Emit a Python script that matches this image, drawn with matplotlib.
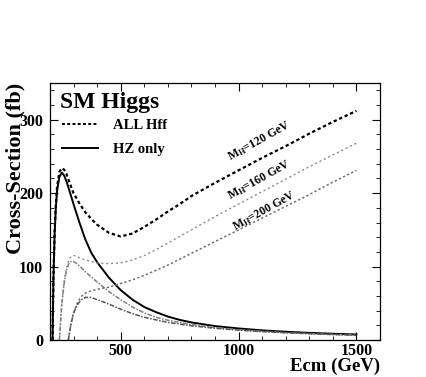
import matplotlib
matplotlib.use("Agg")
import matplotlib.pyplot as plt
from matplotlib.lines import Line2D
from matplotlib.ticker import MultipleLocator

plt.rcParams['font.family'] = ['Liberation Serif', 'DejaVu Serif']
plt.rcParams['font.weight'] = 'bold'
plt.rcParams['mathtext.fontset'] = 'custom'
plt.rcParams['mathtext.rm'] = 'Liberation Serif:bold'
plt.rcParams['mathtext.it'] = 'Liberation Serif:bold'
plt.rcParams['mathtext.bf'] = 'Liberation Serif:bold'

# ---- data ----
e120 = [211, 213, 215, 218, 220, 225, 230, 240, 250, 260, 270, 280, 300, 325, 350,
        375, 400, 450, 500, 550, 600, 650, 700, 750, 800, 900, 1000, 1100, 1200,
        1300, 1400, 1500]
all120 = [0, 50, 90, 125, 150, 185, 208, 229, 234, 232, 226, 217, 200, 186, 174,
          165, 157, 146, 141, 145, 154, 164, 175, 185, 196, 214, 231, 248, 264,
          281, 297, 312]
hz120 = [0, 48, 88, 122, 146, 180, 203, 222, 228, 224, 216, 206, 185, 160, 137,
         119, 106, 85, 68, 55, 45, 38, 32, 27.5, 24, 19, 15.8, 13.2, 11.3,
         9.8, 8.6, 7.6]

e160 = [240, 245, 250, 260, 270, 280, 290, 300, 310, 325, 350, 375, 400, 450, 500,
        550, 600, 650, 700, 800, 900, 1000, 1100, 1200, 1300, 1400, 1500]
all160 = [0, 25, 50, 80, 98, 109, 114, 115, 114.5, 112, 109, 107, 105, 104, 105,
          109, 115, 123, 132, 150, 168, 185, 202, 219, 236, 252, 268]
hz160 = [0, 24, 48, 77, 95, 104, 107, 107, 105, 101, 93, 86, 79, 66, 55,
         45, 37, 31, 27, 21, 17, 14, 12, 10, 8.8, 7.7, 6.8]

e200 = [278, 285, 290, 300, 310, 320, 335, 350, 375, 400, 450, 500, 550, 600, 700,
        800, 900, 1000, 1100, 1200, 1300, 1400, 1500]
all200 = [0, 15, 24, 37, 46, 53, 60, 64, 67, 69, 72, 77, 82, 88, 102,
          118, 134, 150, 166, 182, 198, 215, 231]
hz200 = [0, 14, 23, 36, 44, 50, 55, 58, 58, 55, 49, 42, 36, 31, 24,
         19.5, 16, 13.5, 11.5, 10, 8.6, 7.5, 6.5]

mass_labels = [r'M$_{\rm H}$=120 GeV', r'M$_{\rm H}$=160 GeV', r'M$_{\rm H}$=200 GeV']
label_pos = [(1088, 271), (1086, 218), (1110, 175)]

fig = plt.figure(figsize=(4.27, 3.77), dpi=100)
ax = fig.add_axes([0.117, 0.098, 0.773, 0.682])

gray = '#7f7f7f'
ax.plot(e120, all120, color='black', lw=1.6, ls=(0, (1.5, 1.2)))
ax.plot(e120, hz120, color='black', lw=1.4, ls='-')
ax.plot(e160, all160, color='#8c8c8c', lw=1.0, ls=(0, (1.5, 2)))
ax.plot(e160, hz160, color=gray, lw=1.1, ls=(0, (3, 1, 1, 1)))
ax.plot(e200, all200, color='#707070', lw=1.1, ls=(0, (1.5, 1.5)))
ax.plot(e200, hz200, color='#555555', lw=1.1, ls=(0, (3, 1, 1, 1)))

for txt, (x, y) in zip(mass_labels, label_pos):
    ax.text(x, y, txt, rotation=29, ha='center', va='center', fontsize=8.5,
            fontweight='bold')

ax.set_xlim(200, 1600)
ax.set_ylim(0, 350)
ax.xaxis.set_major_locator(MultipleLocator(500))
ax.xaxis.set_minor_locator(MultipleLocator(100))
ax.yaxis.set_major_locator(MultipleLocator(100))
ax.yaxis.set_minor_locator(MultipleLocator(20))
ax.tick_params(which='both', direction='in', top=True, right=True, labelsize=11.5)
ax.tick_params(which='major', length=6, width=0.8)
ax.tick_params(which='minor', length=3, width=0.6)
ax.tick_params(axis='y', labelright=False, pad=5)
ax.tick_params(axis='x', pad=2)
for lab in ax.get_xticklabels() + ax.get_yticklabels():
    lab.set_fontweight('bold')
for s in ax.spines.values():
    s.set_linewidth(0.9)

ax.text(0.03, 0.965, 'SM Higgs', transform=ax.transAxes, ha='left', va='top',
        fontsize=17, fontweight='bold')
handles = [Line2D([], [], color='black', lw=1.4, ls=(0, (1.5, 1.2))),
           Line2D([], [], color='black', lw=1.4, ls='-')]
ax.legend(handles, ['ALL Hff', 'HZ only'], loc='upper left',
          bbox_to_anchor=(0.036, 0.86), frameon=False, borderpad=0,
          borderaxespad=0, handlelength=2.5, handletextpad=1.0,
          labelspacing=0.75, prop={'weight': 'bold', 'size': 10.5})

fig.text(0.036, 0.78, 'Cross-Section (fb)', rotation=90, ha='center', va='top',
         fontsize=16, fontweight='bold')
fig.text(0.89, 0.004, 'Ecm (GeV)', ha='right', va='bottom', fontsize=13.5,
         fontweight='bold')

fig.savefig('out.png', dpi=100)
